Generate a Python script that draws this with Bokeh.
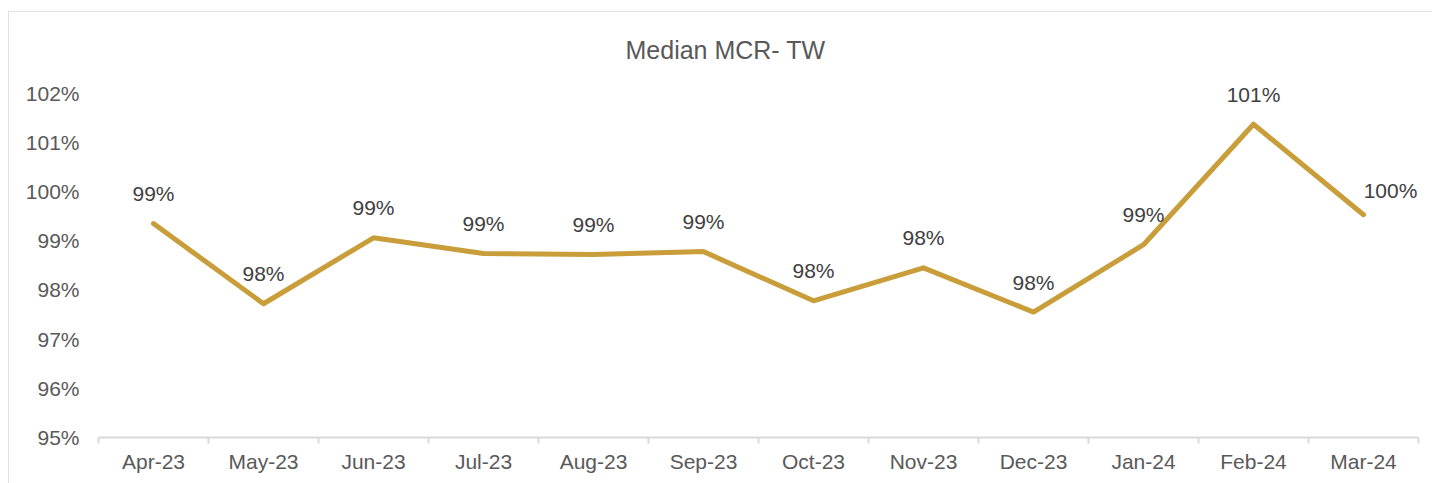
from bokeh.plotting import figure
from bokeh.models import ColumnDataSource, Range1d, FixedTicker, LinearAxis
from bokeh.embed import file_html
from bokeh.resources import INLINE
from bokeh.core.properties import value
import numpy as np

# ---- data ----
categories = ["Apr-23", "May-23", "Jun-23", "Jul-23", "Aug-23", "Sep-23",
              "Oct-23", "Nov-23", "Dec-23", "Jan-24", "Feb-24", "Mar-24"]
mcr_values = [99.35, 97.72, 99.06, 98.74, 98.72, 98.78,
              97.78, 98.45, 97.55, 98.92, 101.37, 99.53]
y_ticks = [95, 96, 97, 98, 99, 100, 101, 102]
title_text = "Median MCR- TW"

FONT = "Liberation Sans"
LINE_COLOR = "#C99D3A"
AXIS_TEXT = "#595959"
LABEL_TEXT = "#404040"
GRID_GRAY = "#D9D9D9"

n = len(categories)
xs = np.arange(n) + 0.5
labels = [f"{round(v)}%" for v in mcr_values]
x_off = [0] * n
y_off = [-30] * n
x_off[-1] = 27
y_off[-1] = -24

src = ColumnDataSource(dict(x=xs, y=mcr_values, lab=labels, xo=x_off, yo=y_off))

p = figure(width=1424, height=472, output_backend="svg", toolbar_location=None,
           x_range=Range1d(0, n), y_range=Range1d(95, 102.3),
           x_axis_type=None, min_border_left=90, min_border_right=14,
           min_border_top=67, min_border_bottom=46)
p.margin = (11, 8, 0, 8)
p.styles = {"outline": f"1.5px solid {GRID_GRAY}", "outline-offset": "-1px"}
p.outline_line_color = None
p.xgrid.visible = False
p.ygrid.visible = False
p.background_fill_color = "white"
p.border_fill_color = "white"

# title
p.title.text = title_text
p.title.text_font = FONT
p.title.text_font_size = "25px"
p.title.text_font_style = "normal"
p.title.text_color = AXIS_TEXT
p.title.align = "left"
p.title.offset = 527
p.title.standoff = 30

# y axis
p.yaxis.ticker = FixedTicker(ticks=y_ticks)
p.yaxis.major_label_overrides = {t: f"{t}%" for t in y_ticks}
p.yaxis.axis_line_color = None
p.yaxis.major_tick_line_color = None
p.yaxis.minor_tick_line_color = None
p.yaxis.major_tick_in = 0
p.yaxis.major_tick_out = 0
p.yaxis.major_label_standoff = 19
p.yaxis.major_label_text_font = FONT
p.yaxis.major_label_text_font_size = "21px"
p.yaxis.major_label_text_color = AXIS_TEXT

# x axis: labels at category centres, tick marks at boundaries
xaxis = LinearAxis(ticker=FixedTicker(ticks=list(xs), minor_ticks=list(range(n + 1))))
xaxis.major_label_overrides = {float(x): c for x, c in zip(xs, categories)}
xaxis.axis_line_color = GRID_GRAY
xaxis.axis_line_width = 2
xaxis.major_tick_line_color = None
xaxis.minor_tick_line_color = GRID_GRAY
xaxis.minor_tick_line_width = 2
xaxis.minor_tick_in = 0
xaxis.minor_tick_out = 6
xaxis.major_tick_in = 0
xaxis.major_tick_out = 6
xaxis.major_label_standoff = 6
xaxis.major_label_text_font = FONT
xaxis.major_label_text_font_size = "21px"
xaxis.major_label_text_color = AXIS_TEXT
p.add_layout(xaxis, "below")

p.line("x", "y", source=src, line_color=LINE_COLOR, line_width=5,
       line_cap="round", line_join="round")
p.text("x", "y", text="lab", source=src, x_offset="xo", y_offset="yo",
       text_align="center", text_baseline="middle",
       text_font=value(FONT), text_font_size="21px", text_color=LABEL_TEXT)

open("out.html", "w").write(file_html(p, INLINE))
